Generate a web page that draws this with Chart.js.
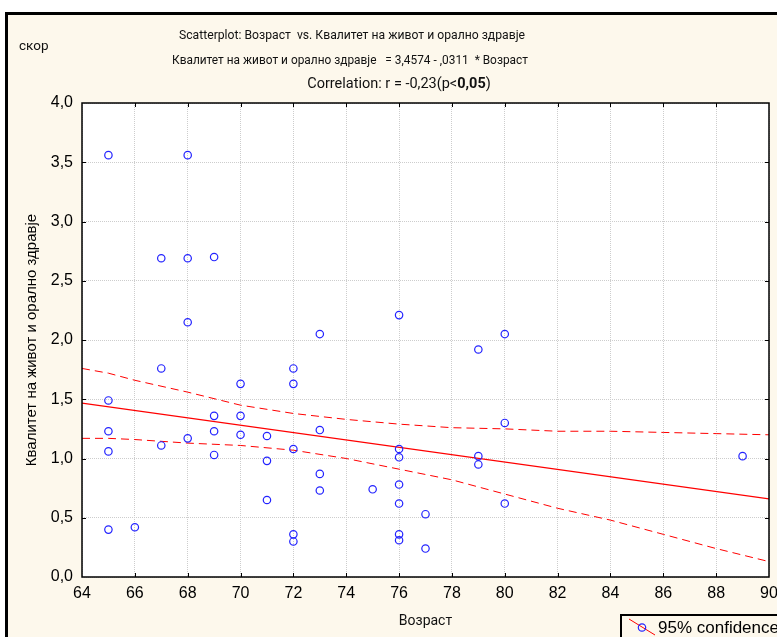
<!DOCTYPE html>
<html lang="mk">
<head>
<meta charset="utf-8">
<title>Scatterplot: Возраст vs. Квалитет на живот и орално здравје</title>
<script src="https://cdn.jsdelivr.net/npm/chart.js@4/dist/chart.umd.min.js"></script>
<style>
  html, body { margin: 0; padding: 0; background: #fff; overflow: hidden; }
  body { width: 777px; height: 637px; position: relative; }
  .frame {
    position: absolute; left: 5px; top: 12px; width: 800px; height: 660px;
    background: #fdf8ec; border: 3px solid #000;
  }
  #wrap { position: absolute; left: 0; top: 0; width: 777px; height: 637px; }
</style>
</head>
<body>
<div class="frame"></div>
<div id="wrap"><canvas id="scatterChart" width="777" height="637"></canvas></div>
<script>
// ─── DATA ──────────────────────────────────────────────────
const ages = [
  65, 68, 67, 68, 69, 68, 73, 76, 80,
  67, 65, 65, 65, 65, 66, 68, 67,
  69, 69, 69, 70, 70, 70, 71, 71, 71,
  72, 72, 72, 72, 72, 73, 73, 73,
  79, 80, 76, 76, 79, 79, 75, 76, 76, 77, 76, 76, 77, 80, 89,
];
const qolScores = [
  3.56, 3.56, 2.69, 2.69, 2.70, 2.15, 2.05, 2.21, 2.05,
  1.76, 1.49, 1.23, 1.06, 0.40, 0.42, 1.17, 1.11,
  1.36, 1.23, 1.03, 1.63, 1.36, 1.20, 1.19, 0.98, 0.65,
  1.76, 1.63, 1.08, 0.36, 0.30, 1.24, 0.87, 0.73,
  1.92, 1.30, 1.08, 1.01, 1.02, 0.95, 0.74, 0.78, 0.62, 0.53, 0.36, 0.31, 0.24, 0.62, 1.02,
];

// regression: Квалитет = 3,4574 - ,0311 * Возраст
const fitIntercept = 3.4574;
const fitSlope     = -0.0311;
const fitRange     = [64, 90];

// 95% confidence band
const bandAges  = [64, 65, 66, 68, 70, 72, 74, 76, 78, 80, 82, 84, 86, 88, 90];
const bandUpper = [1.76, 1.72, 1.66, 1.56, 1.45, 1.38, 1.33, 1.29, 1.26, 1.25, 1.23, 1.23, 1.22, 1.21, 1.20];
const bandLower = [1.17, 1.17, 1.16, 1.13, 1.11, 1.07, 1.00, 0.91, 0.82, 0.70, 0.58, 0.48, 0.36, 0.24, 0.13];

const xTicks = [64, 66, 68, 70, 72, 74, 76, 78, 80, 82, 84, 86, 88, 90];
const yTicks = [0, 0.5, 1, 1.5, 2, 2.5, 3, 3.5, 4];

const BLUE = '#2323ff';
const RED  = '#ff0000';
const SANS = '"Liberation Sans", Arial, sans-serif';
const HUMANIST = 'Roboto, "Open Sans", sans-serif';

const comma = v => v.toFixed(1).replace('.', ',');

// ─── PLUGINS ───────────────────────────────────────────────
// white plot area, black frame and short inward tick marks on all four sides
const plotFrame = {
  id: 'plotFrame',
  beforeDraw(chart) {
    const { ctx, chartArea: a } = chart;
    ctx.save();
    ctx.fillStyle = '#fff';
    ctx.fillRect(a.left, a.top, a.right - a.left, a.bottom - a.top);
    ctx.restore();
  },
  afterDatasetsDraw(chart) {
    const { ctx, chartArea: a, scales: { x, y } } = chart;
    ctx.save();
    ctx.strokeStyle = '#000';
    ctx.lineWidth = 1;
    ctx.beginPath();
    xTicks.slice(1, -1).forEach(v => {
      const px = Math.round(x.getPixelForValue(v)) + 0.5;
      ctx.moveTo(px, a.bottom); ctx.lineTo(px, a.bottom - 4);
      ctx.moveTo(px, a.top);    ctx.lineTo(px, a.top + 4);
    });
    yTicks.slice(1, -1).forEach(v => {
      const py = Math.round(y.getPixelForValue(v)) + 0.5;
      ctx.moveTo(a.left, py);  ctx.lineTo(a.left + 4, py);
      ctx.moveTo(a.right, py); ctx.lineTo(a.right - 4, py);
    });
    ctx.stroke();
    ctx.lineWidth = 1.5;
    ctx.strokeRect(a.left, a.top, a.right - a.left, a.bottom - a.top);
    ctx.restore();
  },
};

// three-line heading, the "скор" tag and the confidence legend box
const headings = {
  id: 'headings',
  afterDraw(chart) {
    const { ctx } = chart;
    const fontOf = (size, b) => `${b ? 'bold ' : ''}${size}px ${HUMANIST}`;
    ctx.save();
    ctx.fillStyle = '#111';
    ctx.textBaseline = 'middle';
    ctx.font = fontOf(13.5, false);

    // the long Cyrillic lines are set a little condensed
    ctx.textAlign = 'center';
    ctx.fillText('Scatterplot: Возраст  vs. Квалитет на живот и орално здравје', 352, 36, 346);
    ctx.fillText('Квалитет на живот и орално здравје   = 3,4574 - ,0311  * Возраст', 350, 61, 356);

    // last line has a bold p-value
    const parts = [['Correlation: r = -0,23(p<', false], ['0,05', true], [')', false]];
    const widths = parts.map(([t, b]) => { ctx.font = fontOf(14.5, b); return ctx.measureText(t).width; });
    let cx = 399 - widths.reduce((s, w) => s + w, 0) / 2;
    ctx.textAlign = 'left';
    parts.forEach(([t, b], i) => {
      ctx.font = fontOf(14.5, b);
      ctx.fillText(t, cx, 84);
      cx += widths[i];
    });

    ctx.font = fontOf(13.5, false);
    ctx.fillText('скор', 19, 47);

    // legend
    ctx.fillStyle = '#fdf8ec';
    ctx.fillRect(621, 615, 200, 60);
    ctx.strokeStyle = '#000';
    ctx.lineWidth = 2;
    ctx.strokeRect(621, 615, 200, 60);
    ctx.strokeStyle = RED;
    ctx.lineWidth = 1;
    ctx.beginPath();
    ctx.moveTo(629, 619); ctx.lineTo(655, 635);
    ctx.stroke();
    ctx.strokeStyle = BLUE;
    ctx.lineWidth = 1.2;
    ctx.beginPath();
    ctx.arc(642, 627.5, 3.7, 0, Math.PI * 2);
    ctx.stroke();
    ctx.fillStyle = '#000';
    ctx.font = `17px ${SANS}`;
    ctx.fillText('95% confidence', 658, 628);
    ctx.restore();
  },
};

// ─── CHART ─────────────────────────────────────────────────
const points   = ages.map((a, i) => ({ x: a, y: qolScores[i] }));
const fitLine  = fitRange.map(a => ({ x: a, y: fitIntercept + fitSlope * a }));
const upperPts = bandAges.map((a, i) => ({ x: a, y: bandUpper[i] }));
const lowerPts = bandAges.map((a, i) => ({ x: a, y: bandLower[i] }));

const bandStyle = {
  type: 'line', borderColor: RED, borderWidth: 1, borderDash: [8, 5],
  pointRadius: 0, fill: false, tension: 0,
};

new Chart(document.getElementById('scatterChart'), {
  type: 'scatter',
  data: {
    datasets: [
      { label: 'Квалитет на живот и орално здравје', data: points,
        pointStyle: 'circle', pointRadius: 3.7, pointBorderWidth: 1.2,
        pointBorderColor: BLUE, pointBackgroundColor: 'transparent' },
      { type: 'line', label: 'fit', data: fitLine, borderColor: RED, borderWidth: 1.2, pointRadius: 0 },
      { ...bandStyle, label: 'upper', data: upperPts },
      { ...bandStyle, label: 'lower', data: lowerPts },
    ],
  },
  options: {
    responsive: false,
    animation: false,
    layout: { padding: { left: 10, top: 103, right: 8, bottom: 5 } },
    plugins: { legend: { display: false }, tooltip: { enabled: false } },
    scales: {
      x: {
        type: 'linear', min: 64, max: 90,
        afterBuildTicks: s => { s.ticks = xTicks.map(v => ({ value: v })); },
        // the "90" label may run past the right edge, like the plot frame does
        afterFit: s => { s.height = 55; s.paddingLeft = 0; s.paddingRight = 0; },
        grid: { color: '#cdcdcd', drawTicks: false },
        border: { display: false, dash: [1, 1] },
        ticks: { color: '#000', font: { family: SANS, size: 16 }, padding: 7, maxRotation: 0 },
        title: { display: true, text: 'Возраст', color: '#111',
                 font: { family: HUMANIST, size: 14 }, padding: { top: 0, bottom: 2 } },
      },
      y: {
        type: 'linear', min: 0, max: 4,
        afterBuildTicks: s => { s.ticks = yTicks.map(v => ({ value: v })); },
        afterFit: s => { s.width = 72; },
        grid: { color: '#cdcdcd', drawTicks: false },
        border: { display: false, dash: [1, 1] },
        ticks: { color: '#000', font: { family: SANS, size: 16 }, padding: 9, callback: v => comma(v) },
        title: { display: true, text: 'Квалитет на живот и орално здравје', color: '#000',
                 font: { family: SANS, size: 15 }, padding: { top: 13, bottom: 0 } },
      },
    },
  },
  plugins: [plotFrame, headings],
});
</script>
</body>
</html>
